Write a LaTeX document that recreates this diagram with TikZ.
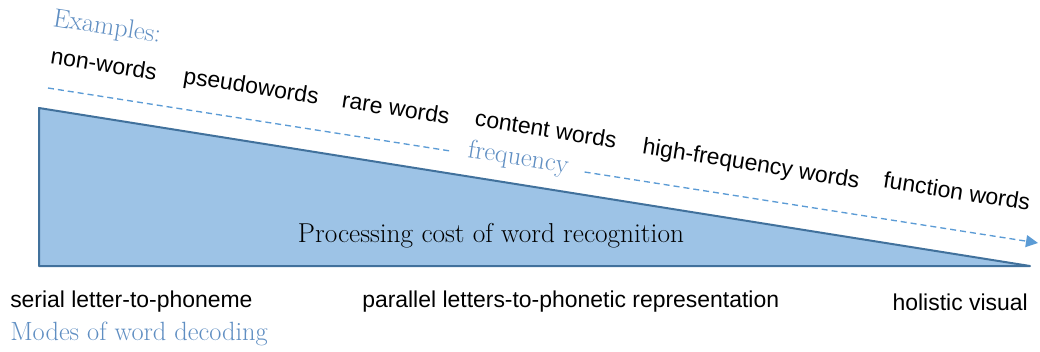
\documentclass[tikz,border=0pt]{standalone}
\usepackage{fontspec}
\setsansfont{Liberation Sans}
\usetikzlibrary{positioning,arrows.meta,calc}
\definecolor{wedgefill}{RGB}{157,195,230}
\definecolor{wedgeline}{RGB}{65,113,156}
\definecolor{freqblue}{RGB}{91,155,213}
\definecolor{noteblue}{RGB}{95,142,194}

\begin{document}
\begin{tikzpicture}[x=0.75pt, y=-0.75pt,
    every node/.style={inner sep=0pt},
    word/.style={font=\sffamily\fontsize{17.2}{20}\selectfont, rotate=-9},
    mode/.style={font=\sffamily\fontsize{17.2}{20}\selectfont},
    note/.style={font=\fontsize{19.8}{23}\selectfont, text=noteblue},
    wedge/.style={draw=wedgeline, fill=wedgefill, line width=1.5pt, line join=round},
    freq/.style={draw=freqblue, line width=1pt, dash pattern=on 4.5pt off 3pt}
  ]
  \useasboundingbox (0,0) rectangle (1040,351);

  % cost wedge
  \draw[wedge] (39,108) coordinate (tl) -- (39,266) coordinate (bl)
               -- (1030,266) coordinate (br) -- cycle;
  \node[font=\fontsize{20.5}{24}\selectfont] (cost) at (491,236) {Processing cost of word recognition};

  % frequency axis
  \coordinate (fs) at (48,88);
  \coordinate (fe) at (1038,243);
  \draw[freq] (fs) -- ($(fs)!0.408!(fe)$);
  \draw[freq, -{Triangle[length=9pt, width=9pt]}] ($(fs)!0.542!(fe)$) -- (fe);
  \node[note, rotate=-9] (fq) at ($(fs)!0.475!(fe)+(0,-3)$) {frequency};

  % examples
  \node[note, rotate=-9] (ex) at (107,28) {Examples:};
  \node[word] (w1) at (104,64)  {non-words};
  \node[word] (w2) at (251,88)  {pseudowords};
  \node[word] (w3) at (396,108) {rare words};
  \node[word] (w4) at (546,129) {content words};
  \node[word] (w5) at (751,165) {high-frequency words};
  \node[word] (w6) at (957,191) {function words};

  % decoding modes
  \node[mode, anchor=west] (m1) at (10,302)  {serial letter-to-phoneme};
  \node[mode, anchor=west] (m2) at (362,302) {parallel letters-to-phonetic representation};
  \node[mode, anchor=east] (m3) at (1028,302) {holistic visual};
  \node[note, anchor=west] (md) at (10,334)  {Modes of word decoding};
\end{tikzpicture}
\end{document}
